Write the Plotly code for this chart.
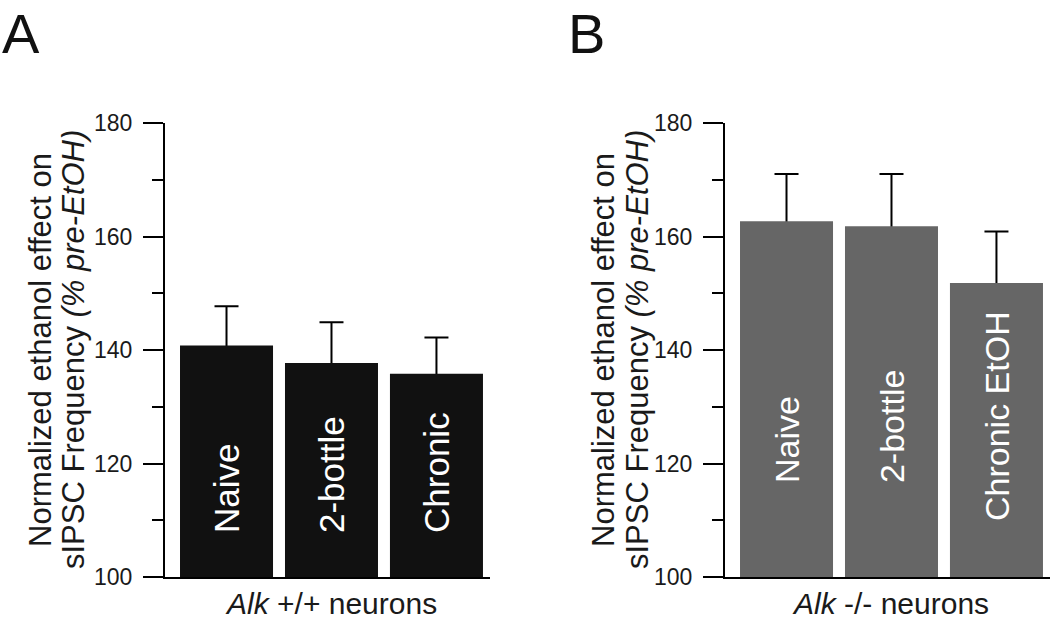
import plotly.graph_objects as go

# ---- data ----
categories = ["Naive", "2-bottle", "Chronic"]
labels_a = ["Naive", "2-bottle", "Chronic"]
labels_b = ["Naive", "2-bottle", "Chronic EtOH"]
values_a = [140.8, 137.7, 135.8]
errors_a = [6.9, 7.2, 6.4]
values_b = [162.7, 161.8, 151.8]
errors_b = [8.3, 9.2, 9.1]
y_ticks = [100, 120, 140, 160, 180]
xtitle_a = "<i>Alk</i> +/+ neurons"
xtitle_b = "<i>Alk</i> -/- neurons"
ytitle_1 = "Normalized ethanol effect on"
ytitle_2 = "sIPSC Frequency <i>(% pre-EtOH)</i>"

# ---- style ----
FONT = "Liberation Sans, Arial, Helvetica, sans-serif"
W, H = 1050, 619
color_a = "#111111"
color_b = "#666666"
label_base_a = [107.4, 107.4, 107.4]
label_base_b = [116.2, 116.2, 109.6]

fig = go.Figure()


def add_panel(vals, errs, color, xa, ya):
    # transparent bars carrying the error bars (drawn first, so the real bars hide the lower end)
    fig.add_trace(go.Bar(
        x=categories, y=vals, width=0.886,
        marker=dict(color="rgba(0,0,0,0)", line=dict(width=0)),
        error_y=dict(type="data", array=errs, arrayminus=[0.35] * len(errs),
                     symmetric=False, color="black", thickness=2, width=12),
        xaxis=xa, yaxis=ya, showlegend=False, hoverinfo="skip"))
    fig.add_trace(go.Bar(
        x=categories, y=vals, width=0.886,
        marker=dict(color=color, line=dict(width=0)),
        xaxis=xa, yaxis=ya, showlegend=False))


add_panel(values_a, errors_a, color_a, "x", "y")
add_panel(values_b, errors_b, color_b, "x2", "y2")

yd = [1 - 577 / H, 1 - 123 / H]
common_x = dict(type="category", range=[-0.586, 2.51], showline=True, linewidth=2,
                linecolor="black", showticklabels=False, ticks="", showgrid=False,
                zeroline=False, fixedrange=True, automargin=False)
common_y = dict(range=[100, 180], tickvals=y_ticks, showline=True, linewidth=2,
                linecolor="black", ticks="outside", ticklen=20, tickwidth=2,
                tickcolor="black", showgrid=False, zeroline=False, automargin=False,
                tickfont=dict(family=FONT, size=23, color="#1a1a1a"),
                ticklabelstandoff=6,
                minor=dict(dtick=10, ticks="outside", ticklen=11, tickwidth=2,
                           tickcolor="black", showgrid=False))

fig.update_layout(
    template="none",
    width=W, height=H, margin=dict(l=0, r=0, t=0, b=0, pad=0, autoexpand=False),
    paper_bgcolor="white", plot_bgcolor="white",
    barmode="overlay", showlegend=False,
    xaxis=dict(domain=[165 / W, 490 / W], anchor="y", **common_x),
    yaxis=dict(domain=yd, anchor="x", **common_y),
    xaxis2=dict(domain=[725 / W, 1.0], anchor="y2", **common_x),
    yaxis2=dict(domain=yd, anchor="x2", **common_y),
)

ann = []
# bar labels
for xa, ya, labs, bases, fs in [("x", "y", labels_a, label_base_a, 35),
                                ("x2", "y2", labels_b, label_base_b, 34)]:
    for c, lab, b in zip(categories, labs, bases):
        ann.append(dict(x=c, y=b, xref=xa, yref=ya, text=lab, textangle=-90,
                        showarrow=False, xanchor="center", yanchor="bottom",
                        font=dict(family=FONT, size=fs, color="white")))

# x titles
for xdom, t in [("x domain", xtitle_a), ("x2 domain", xtitle_b)]:
    ann.append(dict(x=0.5, y=1 - 603 / H, xref=xdom, yref="paper", text=t, xshift=3,
                    showarrow=False, xanchor="center", yanchor="middle",
                    font=dict(family=FONT, size=30, color="#1a1a1a")))

# y titles (two lines each)
for x1, x2 in [(40, 73), (603, 637)]:
    for xp, t in [(x1, ytitle_1), (x2, ytitle_2)]:
        ann.append(dict(x=xp / W, y=1 - 350 / H, xref="paper", yref="paper", text=t,
                        textangle=-90, showarrow=False, xanchor="center", yanchor="middle",
                        font=dict(family=FONT, size=31, color="#1a1a1a")))

# panel letters
for xp, t in [(0, "A"), (566 / W, "B")]:
    ann.append(dict(x=xp, y=1, xref="paper", yref="paper", text=t, showarrow=False,
                    xanchor="left", yanchor="top", yshift=0, xshift=0,
                    font=dict(family=FONT, size=56, color="#111111")))

fig.update_layout(annotations=ann)
fig.write_html(
    "out.html",
    config={"displayModeBar": False},
    post_script="document.body.style.margin='0';document.body.style.overflow='hidden';",
)
